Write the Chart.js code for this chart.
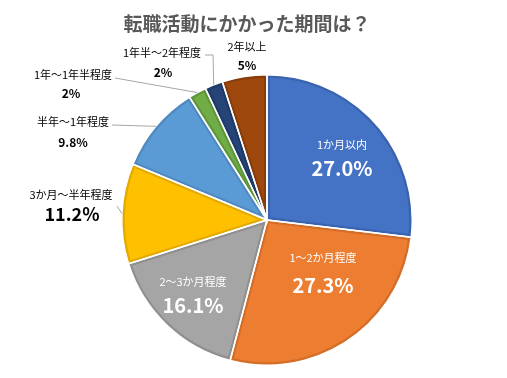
<!DOCTYPE html>
<html>
<head>
<meta charset="utf-8">
<script src="https://cdn.jsdelivr.net/npm/chart.js@4/dist/chart.umd.min.js"></script>
<style>
  html, body { margin: 0; padding: 0; background: #fff; }
  canvas { display: block; }
</style>
</head>
<body>
<canvas id="periodChart" width="507" height="378"></canvas>
<script>
// データ
const chartTitle = '転職活動にかかった期間は？';
const categories = ['1か月以内', '1～2か月程度', '2～3か月程度', '3か月～半年程度', '半年～1年程度', '1年～1年半程度', '1年半～2年程度', '2年以上'];
const shares = [27.0, 27.3, 16.1, 11.2, 9.8, 2, 2, 5];
const shareLabels = ['27.0%', '27.3%', '16.1%', '11.2%', '9.8%', '2%', '2%', '5%'];

const fillColors = ['#4472C4', '#ED7D31', '#A5A5A5', '#FFC000', '#5B9BD5', '#70AD47', '#264478', '#9E480E'];
const edgeColors = ['#3A63AE', '#D36D27', '#909090', '#E2AA00', '#4F89BF', '#5F963B', '#1E3A68', '#873C0B'];

const FONT = '"Noto Sans CJK JP", "Noto Sans", sans-serif';

// ラベルの置き場所（円の中心からのずれ）
const labelSpots = [
  { name: [75, -75], pct: [75, -52], color: '#fff', pctSize: 20 },
  { name: [56, 38], pct: [56, 65], color: '#fff', pctSize: 20 },
  { name: [-74, 62], pct: [-74, 85], color: '#fff', pctSize: 20 },
  { name: [-196, -25], pct: [-195, -6], color: '#000', pctSize: 18, leader: [[-150, -14]] },
  { name: [-194, -98], pct: [-194, -78], color: '#000', pctSize: 12, leader: [[-155, -95]] },
  { name: [-194, -145], pct: [-196, -127], color: '#000', pctSize: 12, leader: [[-152, -142]] },
  { name: [-105, -167], pct: [-104, -148], color: '#000', pctSize: 12, leader: [[-62, -165], [-54, -165]] },
  { name: [-20, -173], pct: [-20, -155], color: '#000', pctSize: 12 }
];

// Excel風の濃い縁取り
const sliceEdges = {
  id: 'sliceEdges',
  afterDatasetsDraw(chart) {
    const ctx = chart.ctx;
    const arcs = chart.getDatasetMeta(0).data;
    arcs.forEach((arc, i) => {
      const p = arc.getProps(['x', 'y', 'startAngle', 'endAngle', 'outerRadius']);
      ctx.save();
      ctx.beginPath();
      ctx.moveTo(p.x, p.y);
      ctx.arc(p.x, p.y, p.outerRadius, p.startAngle, p.endAngle);
      ctx.closePath();
      ctx.clip();
      ctx.lineWidth = 6;
      ctx.strokeStyle = edgeColors[i];
      ctx.lineJoin = 'round';
      ctx.stroke();
      ctx.restore();
    });
    arcs.forEach((arc) => {
      const p = arc.getProps(['x', 'y', 'startAngle', 'endAngle', 'outerRadius']);
      ctx.save();
      ctx.beginPath();
      ctx.moveTo(p.x, p.y);
      ctx.arc(p.x, p.y, p.outerRadius, p.startAngle, p.endAngle);
      ctx.closePath();
      ctx.lineWidth = 1.5;
      ctx.strokeStyle = '#ffffff';
      ctx.stroke();
      ctx.restore();
    });
  }
};

// タイトルとデータラベル
const sliceLabels = {
  id: 'sliceLabels',
  afterDraw(chart) {
    const ctx = chart.ctx;
    const arcs = chart.getDatasetMeta(0).data;
    ctx.save();
    ctx.textAlign = 'center';
    ctx.textBaseline = 'middle';
    ctx.fillStyle = '#595959';
    ctx.font = 'bold 19px ' + FONT;
    ctx.fillText(chartTitle, 247, 24);

    arcs.forEach((arc, i) => {
      const p = arc.getProps(['x', 'y', 'startAngle', 'endAngle', 'outerRadius']);
      const spot = labelSpots[i];
      if (spot.leader) {
        const mid = (p.startAngle + p.endAngle) / 2;
        ctx.beginPath();
        spot.leader.forEach(([dx, dy], k) => {
          if (k === 0) ctx.moveTo(p.x + dx, p.y + dy);
          else ctx.lineTo(p.x + dx, p.y + dy);
        });
        ctx.lineTo(p.x + Math.cos(mid) * p.outerRadius, p.y + Math.sin(mid) * p.outerRadius);
        ctx.strokeStyle = '#a6a6a6';
        ctx.lineWidth = 1;
        ctx.stroke();
      }
      ctx.fillStyle = spot.color;
      ctx.font = '11px ' + FONT;
      ctx.fillText(categories[i], p.x + spot.name[0], p.y + spot.name[1]);
      ctx.font = 'bold ' + spot.pctSize + 'px ' + FONT;
      ctx.fillText(shareLabels[i], p.x + spot.pct[0], p.y + spot.pct[1]);
    });
    ctx.restore();
  }
};

const ctx = document.getElementById('periodChart').getContext('2d');

new Chart(ctx, {
  type: 'pie',
  data: {
    labels: categories,
    datasets: [{
      data: shares,
      backgroundColor: fillColors,
      borderColor: '#ffffff',
      borderWidth: 1.5
    }]
  },
  options: {
    responsive: false,
    animation: false,
    layout: { padding: { top: 74, bottom: 12, left: 27, right: 0 } },
    plugins: {
      legend: { display: false },
      tooltip: { enabled: false },
      title: { display: false }
    }
  },
  plugins: [sliceEdges, sliceLabels]
});
</script>
</body>
</html>
